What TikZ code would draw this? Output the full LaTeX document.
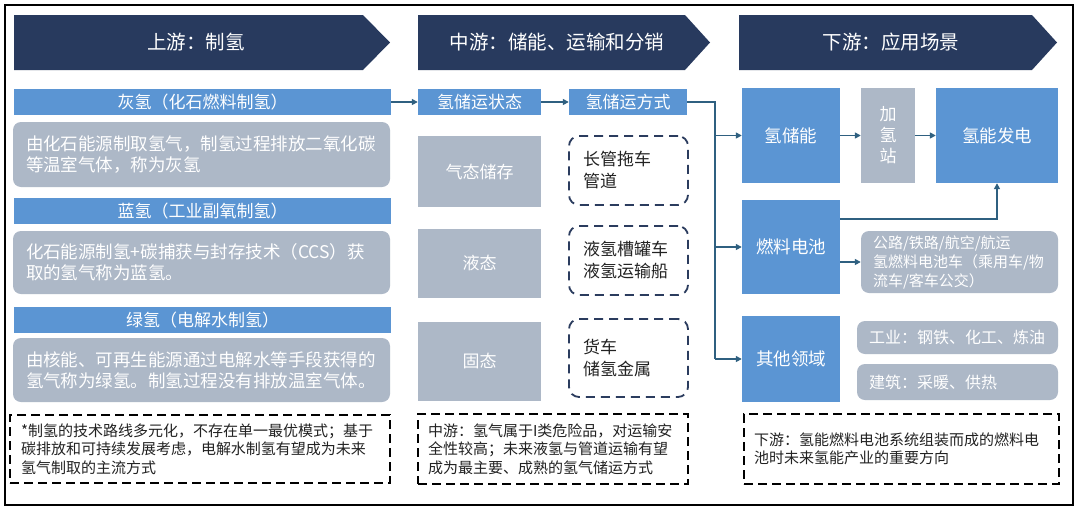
\documentclass[tikz,border=0pt]{standalone}
\usepackage{fontspec}
\setmainfont{Noto Sans CJK SC}
\usetikzlibrary{arrows.meta}
\definecolor{navy}{HTML}{283A5E}
\definecolor{cblue}{HTML}{5B95D3}
\definecolor{cgray}{HTML}{ADB8C7}
\definecolor{conn}{HTML}{2F6080}
\definecolor{dnavy}{HTML}{2B3C5E}
\definecolor{ctext}{HTML}{222222}
\begin{document}
\begin{tikzpicture}[x=1pt,y=-1pt,
  hdr/.style={fill=navy,draw=none},
  hdrtext/.style={text=white,font=\fontsize{19.5}{24}\selectfont,inner sep=0pt},
  bar/.style={fill=cblue,draw=none,inner sep=0pt,minimum height=26pt,text=white,font=\fontsize{17}{20}\selectfont},
  bbox/.style={fill=cblue,draw=none,inner sep=0pt,text=white,align=center,font=\fontsize{17.5}{21}\selectfont},
  gbox/.style={fill=cgray,draw=none,rounded corners=8pt,inner ysep=0pt,text=white,align=left,font=\fontsize{17.5}{21}\selectfont},
  gsq/.style={fill=cgray,draw=none,inner sep=0pt,text=white,align=center,font=\fontsize{17}{21}\selectfont},
  notebox/.style={draw=black,line width=1.8pt,dash pattern=on 9pt off 5pt,inner ysep=0pt,text=ctext,align=left,font=\fontsize{15}{18.5}\selectfont},
  dbox/.style={draw=dnavy,line width=1.8pt,dash pattern=on 9pt off 6pt,rounded corners=10pt,inner ysep=0pt,text=ctext,align=left,font=\fontsize{17}{22}\selectfont},
  arr/.style={draw=conn,line width=1.5pt,-{Triangle[length=6pt,width=6pt]}},
  ln/.style={draw=conn,line width=1.5pt}
]
\useasboundingbox (0,0) rectangle (1080,512);
\fill[white] (0,0) rectangle (1080,512);
\draw[line width=2pt] (5,5) rectangle (1073,505);

% headers
\fill[hdr] (14,15) -- (363,15) -- (390,42.5) -- (363,70) -- (14,70) -- cycle;
\node[hdrtext] (hA) at (196,42.5) {上游：制氢};
\fill[hdr] (418,15) -- (685,15) -- (710,42.5) -- (685,70) -- (418,70) -- cycle;
\node[hdrtext] (hB) at (557,42.5) {中游：储能、运输和分销};
\fill[hdr] (739,15) -- (1032,15) -- (1057,42.5) -- (1032,70) -- (739,70) -- cycle;
\node[hdrtext] (hC) at (891,42.5) {下游：应用场景};

% upstream
\node[bar,minimum width=377pt] (grayH) at (202.5,102) {灰氢（化石燃料制氢）};
\node[gbox,text width=351pt,inner xsep=13pt,minimum height=65pt] (grayT) at (201.5,154.5) {由化石能源制取氢气，制氢过程排放二氧化碳\\等温室气体，称为灰氢};
\node[bar,minimum width=377pt] (blueH) at (202.5,211) {蓝氢（工业副氧制氢）};
\node[gbox,text width=351pt,inner xsep=13pt,minimum height=63pt] (blueT) at (201.5,262.5) {化石能源制氢+碳捕获与封存技术（CCS）获\\取的氢气称为蓝氢。};
\node[bar,minimum width=377pt] (greenH) at (202.5,320) {绿氢（电解水制氢）};
\node[gbox,text width=351pt,inner xsep=13pt,minimum height=64pt] (greenT) at (201.5,370) {由核能、可再生能源通过电解水等手段获得的\\氢气称为绿氢。制氢过程没有排放温室气体。};
\node[notebox,text width=358pt,inner xsep=11pt,minimum height=68pt] (noteA) at (200,449) {*制氢的技术路线多元化，不存在单一最优模式；基于\\碳排放和可持续发展考虑，电解水制氢有望成为未来\\氢气制取的主流方式};

% midstream
\node[bar,minimum width=123pt] (state) at (479.5,102) {氢储运状态};
\node[bar,minimum width=118pt] (mode) at (628,102) {氢储运方式};
\node[gsq,minimum width=123pt,minimum height=71pt] (gas) at (479.5,171.5) {气态储存};
\node[gsq,minimum width=123pt,minimum height=69pt] (liquid) at (479.5,263.5) {液态};
\node[gsq,minimum width=123pt,minimum height=79pt] (solid) at (479.5,361.5) {固态};
\node[dbox,text width=91pt,inner xsep=14pt,minimum height=69pt] (d1) at (628.5,170.5) {长管拖车\\管道};
\node[dbox,text width=91pt,inner xsep=14pt,minimum height=69pt] (d2) at (628.5,260.5) {液氢槽罐车\\液氢运输船};
\node[dbox,text width=91pt,inner xsep=14pt,minimum height=78pt] (d3) at (628.5,358) {货车\\储氢金属};
\node[notebox,text width=250pt,inner xsep=10pt,minimum height=70pt] (noteB) at (553,449) {中游：氢气属于I类危险品，对运输安\\全性较高；未来液氢与管道运输有望\\成为最主要、成熟的氢气储运方式};

% downstream
\node[bbox,minimum width=98pt,minimum height=95pt] (store) at (791,135.5) {氢储能};
\node[gsq,minimum width=54pt,minimum height=95pt] (station) at (888,135.5) {加\\氢\\站};
\node[bbox,minimum width=122pt,minimum height=95pt] (power) at (997,135.5) {氢能发电};
\node[bbox,minimum width=98pt,minimum height=94pt] (fuel) at (791,247) {燃料电池};
\node[gbox,text width=173pt,inner xsep=12pt,minimum height=62pt,font=\fontsize{15}{19}\selectfont] (road) at (959.5,262) {公路/铁路/航空/航运\\氢燃料电池车（乘用车/物\\流车/客车公交）};
\node[bbox,minimum width=98pt,minimum height=86pt] (other) at (791,359) {其他领域};
\node[gbox,text width=177pt,inner xsep=12pt,minimum height=33pt,font=\fontsize{16}{19}\selectfont] (ind) at (957.5,337.5) {工业：钢铁、化工、炼油};
\node[gbox,text width=177pt,inner xsep=12pt,minimum height=36pt,font=\fontsize{16}{19}\selectfont] (bld) at (957.5,382) {建筑：采暖、供热};
\node[notebox,text width=295pt,inner xsep=10pt,minimum height=70pt] (noteC) at (901.5,449) {下游：氢能燃料电池系统组装而成的燃料电\\池时未来氢能产业的重要方向};

% connectors
\coordinate (j1) at (715,135.5);
\coordinate (j2) at (715,247);
\coordinate (j3) at (715,359);
\coordinate (f1) at (840,219);
\draw[arr] (grayH.east) -- (state.west);
\draw[arr] (state.east) -- (mode.west);
\draw[ln] (mode.east) -| (j3);
\draw[arr] (j1) -- (store.west);
\draw[arr] (j2) -- (fuel.west);
\draw[arr] (j3) -- (other.west);
\draw[arr] (store.east) -- (station.west);
\draw[arr] (station.east) -- (power.west);
\draw[arr] (f1) -| (power.south);
\draw[arr] (fuel.east |- road.west) -- (road.west);
\end{tikzpicture}
\end{document}
